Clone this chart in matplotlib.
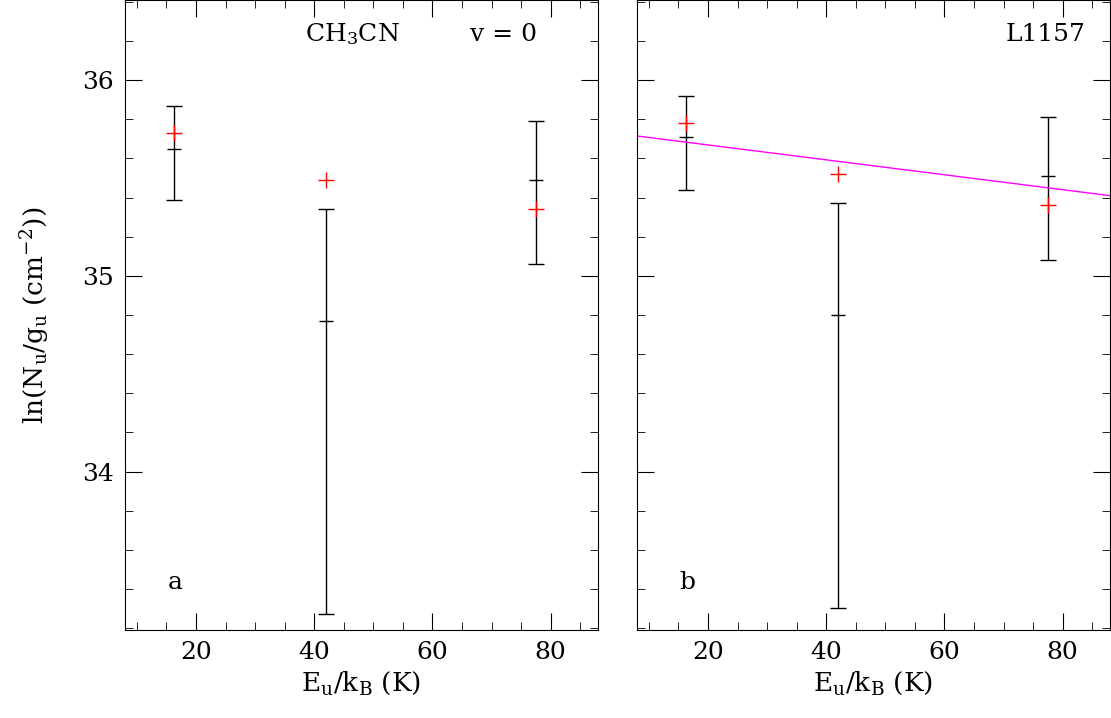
import matplotlib
matplotlib.use("Agg")
import matplotlib.pyplot as plt
import numpy as np
from matplotlib.ticker import MultipleLocator

plt.rcParams['font.family'] = ['DejaVu Serif']
plt.rcParams['mathtext.fontset'] = 'dejavuserif'

eu = [16.3, 42.0, 77.5]
red_a = [35.73, 35.49, 35.34]
ctr_a = [35.65, 34.77, 35.49]
lo_a = [35.39, 33.27, 35.06]
hi_a = [35.87, 35.34, 35.79]
red_b = [35.78, 35.52, 35.36]
ctr_b = [35.71, 34.80, 35.51]
lo_b = [35.44, 33.30, 35.08]
hi_b = [35.92, 35.37, 35.81]
fit_x = [8, 88]
fit_y = [35.715, 35.41]

fig = plt.figure(figsize=(11.11, 7.18), dpi=100)
axa = fig.add_axes([125/1111, 88/718, 473/1111, 630/718])
axb = fig.add_axes([637/1111, 88/718, 473/1111, 630/718])

for ax, red, ctr, lo, hi in [(axa, red_a, ctr_a, lo_a, hi_a), (axb, red_b, ctr_b, lo_b, hi_b)]:
    ctr = np.array(ctr); lo = np.array(lo); hi = np.array(hi)
    ax.errorbar(eu, ctr, yerr=[ctr - lo, hi - ctr], fmt='none', ecolor='black',
                elinewidth=1, capsize=6, capthick=1)
    ax.plot(eu, ctr, marker='_', ls='none', color='black', ms=10, mew=1)
    ax.plot(eu, red, marker='+', ls='none', color='red', ms=11, mew=1)
    ax.set_xlim(8, 88)
    ax.set_ylim(33.19, 36.41)
    ax.xaxis.set_major_locator(MultipleLocator(20))
    ax.xaxis.set_minor_locator(MultipleLocator(5))
    ax.yaxis.set_major_locator(MultipleLocator(1))
    ax.yaxis.set_minor_locator(MultipleLocator(0.2))
    ax.tick_params(which='both', direction='in', top=True, right=True, labelsize=18)
    ax.tick_params(which='major', length=12, pad=8)
    ax.tick_params(which='minor', length=6)
    ax.set_xlabel(r'E$_\mathrm{u}$/k$_\mathrm{B}$ (K)', fontsize=19)

axb.plot(fit_x, fit_y, color='magenta', lw=1)
axb.set_yticklabels([])
axa.set_ylabel(r'ln(N$_\mathrm{u}$/g$_\mathrm{u}$ (cm$^{-2}$))', fontsize=19, labelpad=22)
axa.text(0.38, 0.935, r'CH$_3$CN', transform=axa.transAxes, fontsize=18)
axa.text(0.73, 0.935, 'v = 0', transform=axa.transAxes, fontsize=18)
axa.text(0.09, 0.065, 'a', transform=axa.transAxes, fontsize=18)
axb.text(0.78, 0.935, 'L1157', transform=axb.transAxes, fontsize=18)
axb.text(0.09, 0.065, 'b', transform=axb.transAxes, fontsize=18)

fig.savefig('out.png', dpi=100)
